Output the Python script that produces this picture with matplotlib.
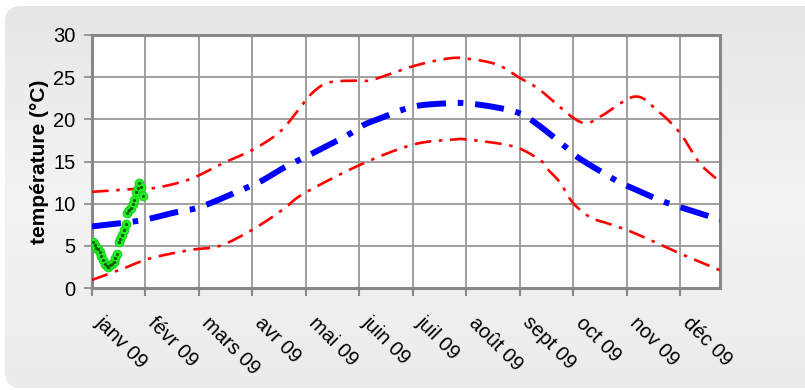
import numpy as np
import matplotlib
matplotlib.use("Agg")
import matplotlib.pyplot as plt
from matplotlib.patches import FancyBboxPatch

plt.rcParams['font.family'] = ['Liberation Sans', 'DejaVu Sans']
plt.rcParams['lines.scale_dashes'] = False

# ---- data (x in months from 1 Jan 2009) ----
month_labels = ["janv 09", "févr 09", "mars 09", "avr 09", "mai 09", "juin 09",
                "juil 09", "août 09", "sept 09", "oct 09", "nov 09", "déc 09"]

upper_x = [0, 0.90, 1.21, 1.83, 2.45, 3.01, 3.51, 3.83, 4.13, 4.45, 5.01, 5.25,
           6.0, 6.64, 7.01, 7.57, 8.0, 8.37, 8.99, 9.27, 9.55, 10.15, 10.56,
           10.99, 11.36, 11.74]
upper_y = [11.4, 11.8, 11.9, 12.9, 14.8, 16.4, 18.5, 20.9, 23.2, 24.4, 24.6, 24.7,
           26.3, 27.2, 27.2, 26.5, 24.9, 23.5, 20.2, 19.6, 20.5, 22.7, 21.1,
           18.4, 14.8, 12.6]

mean_x = [0, 0.90, 1.51, 2.02, 2.71, 3.14, 3.51, 3.69, 4.07, 4.77, 5.07, 5.38,
          6.0, 6.64, 7.01, 7.57, 8.0, 8.37, 8.84, 9.08, 9.62, 9.87, 10.19,
          10.62, 10.99, 11.74]
mean_y = [7.3, 8.0, 8.9, 9.6, 11.4, 12.6, 14.0, 14.6, 15.8, 18.1, 19.3, 20.1,
          21.5, 21.9, 21.9, 21.4, 20.7, 19.2, 16.8, 15.5, 13.4, 12.5, 11.6,
          10.4, 9.6, 8.1]

lower_x = [0, 0.58, 1.08, 1.83, 2.34, 2.77, 3.2, 3.61, 3.96, 5.01, 6.0, 6.75,
           7.01, 7.87, 8.37, 8.5, 8.75, 8.99, 9.31, 9.62, 9.99, 10.43, 10.99, 11.74]
lower_y = [0.95, 2.3, 3.5, 4.5, 4.9, 6.1, 7.7, 9.5, 11.2, 14.6, 17.0, 17.6,
           17.6, 16.8, 15.2, 14.2, 12.5, 10.1, 8.4, 7.7, 6.9, 5.7, 4.1, 2.1]

# daily observations January 2009 (day of month)
obs_day = list(range(1, 31))
obs_temp = [5.4, 5.1, 4.8, 4.6, 4.3, 3.8, 3.3, 2.8, 2.6, 2.5, 2.7, 2.9, 3.1, 3.5,
            4.0, 5.4, 5.8, 6.3, 6.9, 7.6, 8.9, 9.3, 9.5, 10.0, 10.4, 11.4, 11.9,
            12.4, 12.0, 10.9]


def smooth(xs, ys, n=12):
    """Catmull-Rom rendering of a smoothed line through the given points."""
    p = np.column_stack([xs, ys]).astype(float)
    p = np.vstack([p[0] * 2 - p[1], p, p[-1] * 2 - p[-2]])
    out = []
    t = np.linspace(0, 1, n, endpoint=False)[:, None]
    for i in range(1, len(p) - 2):
        p0, p1, p2, p3 = p[i - 1], p[i], p[i + 1], p[i + 2]
        seg = 0.5 * ((2 * p1) + (-p0 + p2) * t +
                     (2 * p0 - 5 * p1 + 4 * p2 - p3) * t ** 2 +
                     (-p0 + 3 * p1 - 3 * p2 + p3) * t ** 3)
        out.append(seg)
    out.append(p[-2][None, :])
    out = np.vstack(out)
    return out[:, 0], out[:, 1]


W, H = 805, 390
fig = plt.figure(figsize=(W / 100, H / 100), dpi=100)
fig.patch.set_facecolor('white')

# rounded gradient background
bg = fig.add_axes([0, 0, 1, 1], zorder=-10)
bg.set_xlim(0, W)
bg.set_ylim(H, 0)
bg.axis('off')
grad = np.linspace(0, 1, 256).reshape(-1, 1)
cmap = matplotlib.colors.LinearSegmentedColormap.from_list(
    'g', ['#e6e6e6', '#f3f3f3', '#ececec'])
im = bg.imshow(grad, cmap=cmap, extent=[0, W, H, 0], aspect='auto')
box = FancyBboxPatch((5, 6), W + 20, H - 8, boxstyle="round,pad=0,rounding_size=16",
                     transform=bg.transData, facecolor='none', edgecolor='none')
bg.add_patch(box)
im.set_clip_path(box)

ax = fig.add_axes([92 / W, 1 - 288 / H, (720 - 92) / W, (288 - 35) / H])
ax.set_facecolor('white')

ux, uy = smooth(upper_x, upper_y)
lx, ly = smooth(lower_x, lower_y)
mx, my = smooth(mean_x, mean_y)
ax.plot(ux, uy, color='#ff0000', lw=1.9,
        dashes=(12, 5.5, 2.5, 5.5), solid_capstyle='butt', zorder=3)
ax.plot(lx, ly, color='#ff0000', lw=1.9,
        dashes=(12, 5.5, 2.5, 5.5), solid_capstyle='butt', zorder=3)
ax.plot(mx, my, color='#0000ff', lw=4.3,
        dashes=(21, 8.5, 4, 8.5), solid_capstyle='butt', zorder=3)

obs_x = [(d - 1 + 0.5) / 31 for d in obs_day]
ax.plot(obs_x, obs_temp, linestyle='none', marker='o', ms=6.3,
        markerfacecolor='#22f022', markeredgecolor='#18d018', mew=0.7, zorder=4)
ax.plot(obs_x, obs_temp, linestyle='none', marker='o', ms=1.3,
        color='#0d5e0d', zorder=5)

ax.set_xlim(0, 11.74)
ax.set_ylim(0, 30)
ax.set_xticks(range(12))
ax.set_xticklabels([])
for i, lab in enumerate(month_labels):
    ax.annotate(lab, xy=(i, 0), xycoords=('data', 'axes fraction'),
                xytext=(9, -18), textcoords='offset points',
                rotation=-45, ha='left', va='top', rotation_mode='anchor',
                fontsize=14.5, annotation_clip=False)
ax.set_yticks(range(0, 31, 5))
ax.tick_params(axis='y', labelsize=14.5, length=6, width=1.2, color='#888888', pad=6)
ax.tick_params(axis='x', length=6, width=1.5, color='#888888')
ax.grid(True, color='#999999', lw=1.3)
ax.set_axisbelow(True)
for s in ax.spines.values():
    s.set_color('#888888')
    s.set_linewidth(2.2)
ax.set_ylabel('température (°C)', fontsize=15, fontweight='bold', labelpad=3)

fig.savefig('out.png', dpi=100)
